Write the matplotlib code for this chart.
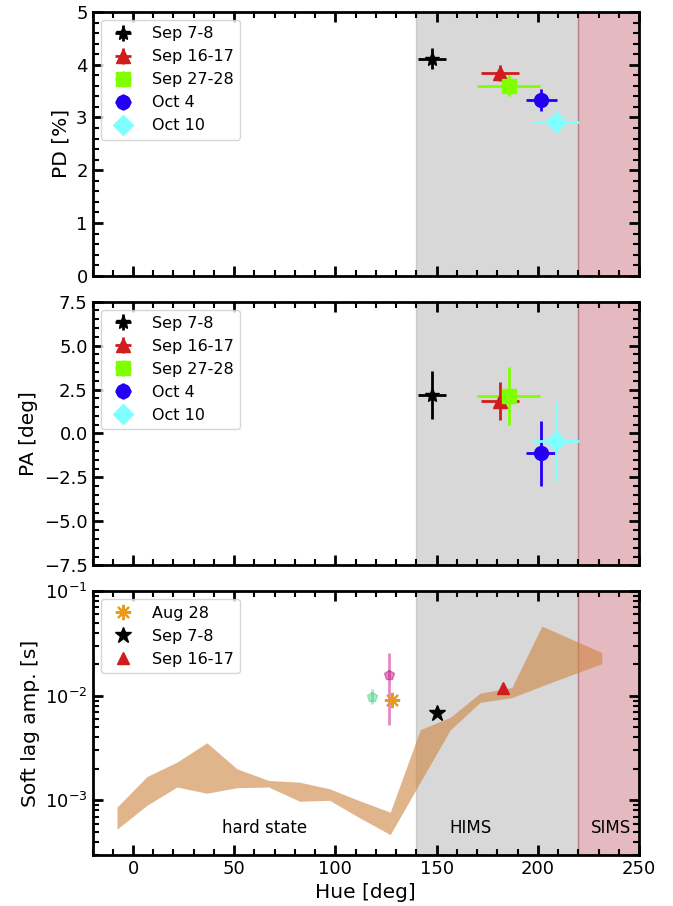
import numpy as np
import matplotlib
matplotlib.use("Agg")
import matplotlib.pyplot as plt
from matplotlib.ticker import MultipleLocator

# polarimetry points (hue, PD, PA)
labels = ['Sep 7-8', 'Sep 16-17', 'Sep 27-28', 'Oct 4', 'Oct 10']
colors = ['black', '#d01c1c', '#7fff00', '#2300f5', '#80ffff']
markers = ['*', '^', 's', 'o', 'D']
hue = [147.8, 181.2, 185.7, 201.8, 209.0]
hue_err = [6.9, 9.4, 15.5, 7.6, 11.5]
pd_val = [4.11, 3.85, 3.60, 3.33, 2.92]
pd_err = [0.20, 0.15, 0.20, 0.21, 0.23]
pa_val = [2.2, 1.84, 2.12, -1.12, -0.44]
pa_err = [1.37, 1.07, 1.64, 1.84, 2.25]

# soft lag band
band_hue = [-7.9, 6.9, 21.7, 36.5, 51.4, 67.0, 82.3, 97.1, 111.4, 127.1,
            141.9, 156.7, 171.5, 187.2, 202.0, 231.6]
band_hi = [8.6e-4, 1.69e-3, 2.32e-3, 3.55e-3, 2.0e-3, 1.55e-3, 1.49e-3, 1.29e-3,
           1.0e-3, 7.7e-4, 4.74e-3, 6.22e-3, 1.06e-2, 1.2e-2, 4.64e-2, 2.59e-2]
band_lo = [5.3e-4, 8.96e-4, 1.34e-3, 1.17e-3, 1.32e-3, 1.34e-3, 9.8e-4, 1.0e-3,
           6.9e-4, 4.7e-4, 1.49e-3, 4.71e-3, 8.65e-3, 9.6e-3, 1.24e-2, 2.03e-2]

# soft lag points
lag_aug_hue, lag_aug = 127.9, 9.1e-3
lag_sep7_hue, lag_sep7 = 150.4, 6.9e-3
lag_sep16_hue, lag_sep16 = 182.9, 1.18e-2
lag_g_hue, lag_g, lag_g_lo, lag_g_hi = 118.0, 9.8e-3, 8.3e-3, 1.16e-2
lag_p_hue, lag_p, lag_p_lo, lag_p_hi = 126.7, 1.57e-2, 5.26e-3, 2.58e-2

plt.rcParams['font.family'] = 'DejaVu Sans'

fig, axes = plt.subplots(3, 1, figsize=(6.73, 9.06), dpi=100, sharex=True)
fig.subplots_adjust(left=0.1375, right=0.9495, top=0.9868, bottom=0.0563, hspace=0.098)
ax1, ax2, ax3 = axes

for ax in axes:
    ax.axvspan(140, 220, color='grey', alpha=0.3, zorder=0)
    ax.axvspan(220, 250, color='#a8192d', alpha=0.3, zorder=0)
    ax.tick_params(which='both', direction='in', top=True, right=True, labelsize=13)
    ax.tick_params(which='major', length=7, width=2)
    ax.tick_params(which='minor', length=4, width=1.5)
    for s in ax.spines.values():
        s.set_linewidth(2)
    ax.xaxis.set_minor_locator(MultipleLocator(10))
    ax.set_xlim(-20, 250)

for i in range(len(labels)):
    ms = 10 if markers[i] != 'D' else 10
    ax1.errorbar(hue[i], pd_val[i], xerr=hue_err[i], yerr=pd_err[i], fmt=markers[i],
                 color=colors[i], ms=ms, elinewidth=2, label=labels[i])
    ax2.errorbar(hue[i], pa_val[i], xerr=hue_err[i], yerr=pa_err[i], fmt=markers[i],
                 color=colors[i], ms=ms, elinewidth=2, label=labels[i])

ax1.set_ylim(0, 5)
ax1.yaxis.set_major_locator(MultipleLocator(1))
ax1.yaxis.set_minor_locator(MultipleLocator(0.2))
ax1.set_ylabel('PD [%]', fontsize=14.5)
ax1.legend(loc='upper left', fontsize=11.5)

ax2.set_ylim(-7.5, 7.5)
ax2.yaxis.set_major_locator(MultipleLocator(2.5))
ax2.yaxis.set_minor_locator(MultipleLocator(0.5))
ax2.set_ylabel('PA [deg]', fontsize=14.5)
ax2.legend(loc='upper left', fontsize=11.5)

ax3.fill_between(band_hue, band_lo, band_hi, color='peru', alpha=0.6, lw=0)
ax3.errorbar(lag_g_hue, lag_g, yerr=[[lag_g - lag_g_lo], [lag_g_hi - lag_g]],
             fmt='p', color='#2ecc71', alpha=0.4, ms=7, elinewidth=2)
ax3.errorbar(lag_p_hue, lag_p, yerr=[[lag_p - lag_p_lo], [lag_p_hi - lag_p]],
             fmt='p', color='mediumvioletred', alpha=0.5, ms=7, elinewidth=2)
ax3.plot(lag_aug_hue, lag_aug, ls='none', marker=(8, 2, 0), color='#e69b1e',
         ms=11, mew=1.5, label='Aug 28')
ax3.plot(lag_sep7_hue, lag_sep7, ls='none', marker='*', color='black', ms=12,
         label='Sep 7-8')
ax3.plot(lag_sep16_hue, lag_sep16, ls='none', marker='^', color='#d01c1c', ms=9,
         label='Sep 16-17')
ax3.set_yscale('log')
ax3.set_ylim(3e-4, 1e-1)
ax3.set_ylabel('Soft lag amp. [s]', fontsize=14.5)
ax3.set_xlabel('Hue [deg]', fontsize=14.5)
ax3.legend(loc='upper left', fontsize=11.5)

ax3.text(65, 5.4e-4, 'hard state', ha='center', va='center', fontsize=12)
ax3.text(166.5, 5.4e-4, 'HIMS', ha='center', va='center', fontsize=12)
ax3.text(236, 5.4e-4, 'SIMS', ha='center', va='center', fontsize=12)

fig.savefig('out.png', dpi=100)
